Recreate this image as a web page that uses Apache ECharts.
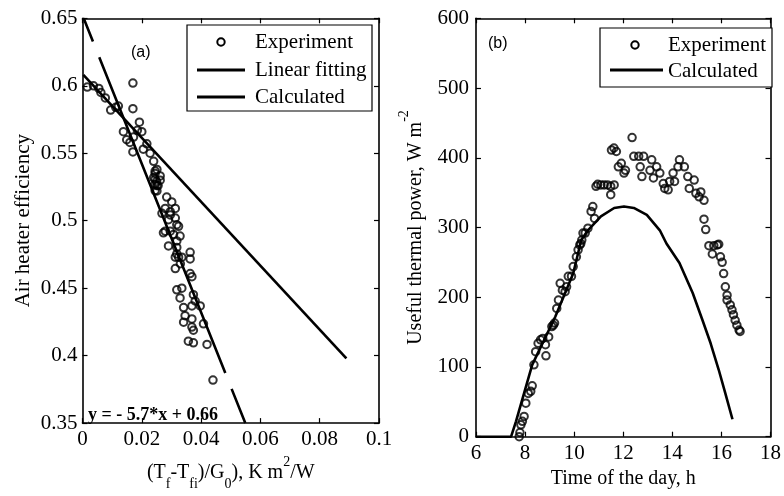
<!DOCTYPE html>
<html>
<head>
<meta charset="utf-8">
<script src="https://cdn.jsdelivr.net/npm/echarts@6/dist/echarts.min.js"></script>
<style>html,body{margin:0;padding:0;background:#fff;}#c{width:784px;height:496px;}</style>
</head>
<body>
<div id="c"></div>
<script>
// ---------- Data ----------
// Panel (a): air heater efficiency vs reduced temperature
const effExperiment = [
  [0.0016,0.599],[0.0037,0.600],[0.0055,0.598],[0.0062,0.595],[0.0077,0.591],[0.0095,0.582],
  [0.0112,0.584],[0.0121,0.585],[0.0170,0.602],[0.0170,0.583],[0.0192,0.573],[0.0138,0.566],
  [0.0149,0.560],[0.0170,0.551],[0.0172,0.562],[0.0200,0.566],[0.0217,0.557],[0.0205,0.553],
  [0.0185,0.567],[0.0160,0.558],[0.0228,0.550],[0.0240,0.544],[0.0251,0.538],[0.0245,0.535],
  [0.0240,0.532],[0.0245,0.527],[0.0251,0.522],[0.0262,0.530],[0.0255,0.526],[0.0250,0.529],
  [0.0245,0.5368],[0.0245,0.5308],[0.0251,0.526],[0.0245,0.5223],[0.0262,0.5332],
  [0.0284,0.5175],[0.0301,0.5139],[0.0279,0.5091],[0.0296,0.5067],[0.0268,0.5055],
  [0.0313,0.5091],[0.0290,0.5007],[0.0318,0.4970],[0.0279,0.4922],[0.0307,0.4898],
  [0.0329,0.4886],[0.0290,0.4813],[0.0318,0.4802],[0.0363,0.4766],[0.0363,0.4717],
  [0.0324,0.4730],[0.0313,0.4730],[0.0313,0.4645],[0.0363,0.4608],[0.0369,0.4585],
  [0.0318,0.4488],[0.0335,0.4500],[0.0329,0.4428],[0.0374,0.4452],[0.0380,0.4405],
  [0.0397,0.4368],[0.0369,0.4368],[0.0341,0.4356],[0.0346,0.4296],[0.0369,0.4272],
  [0.0341,0.4248],[0.0369,0.4212],[0.0374,0.4188],[0.0408,0.4236],[0.0357,0.4107],
  [0.0374,0.4095],[0.0420,0.4083],[0.0440,0.3819],[0.0296,0.5043],[0.0313,0.5020],
  [0.0324,0.4958],[0.0273,0.4910],[0.0296,0.4922],[0.0330,0.4681],[0.0335,0.4730],
  [0.0318,0.4754],[0.0318,0.4850]
];
const effLinearFit = [[0.0004,0.650],[0.0549,0.350]];
const effCalculated = [[0.0003,0.608],[0.0890,0.398]];

// Panel (b): useful thermal power vs time of day
const powerExperiment = [
  [7.76,0],[7.79,6],[7.83,17],[7.89,22],[7.96,29],[8.03,48],[8.13,62],[8.23,65],[8.29,73],
  [8.36,103],[8.43,122],[8.53,134],[8.63,139],[8.72,141],[8.83,132],[8.85,116],[8.96,143],
  [9.09,158],[9.20,163],[9.15,160],[9.29,184],[9.36,196],[9.43,220],[9.52,210],[9.63,208],
  [9.69,215],[9.76,230],[9.89,230],[9.96,244],[10.09,258],[10.16,268],[10.27,277],[10.23,275],
  [10.31,282],[10.36,292],[10.45,292],[10.56,299],[10.69,323],[10.83,313],[10.76,330],
  [10.89,359],[10.96,362],[11.09,361],[11.22,361],[11.36,361],[11.49,359],[11.49,347],
  [11.63,361],[11.52,411],[11.62,414],[11.72,409],[11.80,387],[11.92,392],[12.03,378],
  [12.09,382],[12.36,429],[12.43,402],[12.63,402],[12.69,387],[12.76,373],[12.83,402],
  [13.09,382],[13.23,371],[13.16,397],[13.36,387],[13.49,378],[13.63,363],[13.69,356],
  [13.83,354],[13.89,366],[14.03,378],[14.09,366],[14.23,387],[14.29,397],[14.49,387],
  [14.63,373],[14.69,356],[14.89,368],[14.96,349],[15.09,344],[15.16,351],[15.29,339],
  [15.29,312],[15.36,297],[15.49,274],[15.63,262],[15.69,274],[15.83,275],[15.89,276],
  [15.96,258],[16.03,250],[16.09,234],[16.16,215],[16.23,203],[16.23,196],[16.36,189],
  [16.43,182],[16.49,175],[16.56,167],[16.63,160],[16.72,153],[16.76,151]
];
const powerCalculated = [
  [6.00,0],[7.43,0],[7.63,22],[8.29,103],[9.23,172],[9.96,234],[10.29,282],[10.56,296],
  [11.09,316],[11.63,328],[12.03,330],[12.43,328],[12.96,318],[13.49,296],[13.76,277],
  [14.29,249],[14.83,206],[15.23,167],[15.56,134],[15.89,96],[16.16,62],[16.45,25]
];

// Tick definitions
const effXTicks = {min: 0, max: 0.1, interval: 0.02};
const effYTicks = {min: 0.35, max: 0.65, interval: 0.05};
const powXTicks = {min: 6, max: 18, interval: 2};
const powYTicks = {min: 0, max: 600, interval: 100};

// ---------- Chart ----------
const serif = 'Liberation Serif, Times New Roman, serif';
const chart = echarts.init(document.getElementById('c'), null, {renderer: 'canvas'});

function axisBase(t, pos, grid, showLabel, margin) {
  return {
    type: 'value', gridIndex: grid, position: pos,
    min: t.min, max: t.max, interval: t.interval,
    axisLine: {show: true, onZero: false, lineStyle: {color: '#000', width: 1.6}},
    axisTick: {show: true, inside: true, length: 5, lineStyle: {color: '#000', width: 1.2}},
    axisLabel: {show: showLabel, color: '#000', fontFamily: serif, fontSize: 21, margin: margin},
    splitLine: {show: false}
  };
}

const subRich = {
  sub: {fontSize: 14, lineHeight: 14, verticalAlign: 'bottom', fontFamily: serif, color: '#000'},
  sup: {fontSize: 14, lineHeight: 14, verticalAlign: 'top', fontFamily: serif, color: '#000'}
};

const xA0 = axisBase(effXTicks, 'bottom', 0, true, 6);
xA0.name = '(T{sub|f}-T{sub|fi})/G{sub|0}), K m{sup|2}/W';
xA0.nameLocation = 'middle';
xA0.nameGap = 27;
xA0.nameTextStyle = {color: '#000', fontFamily: serif, fontSize: 20, lineHeight: 36, rich: subRich};
const xA1 = axisBase(effXTicks, 'top', 0, false, 6);
const yA0 = axisBase(effYTicks, 'left', 0, true, 5);
yA0.name = 'Air heater efficiency';
yA0.nameLocation = 'middle';
yA0.nameGap = 49;
yA0.nameTextStyle = {color: '#000', fontFamily: serif, fontSize: 21};
const yA1 = axisBase(effYTicks, 'right', 0, false, 5);

const xB0 = axisBase(powXTicks, 'bottom', 1, true, 6);
xB0.name = 'Time of the day, h';
xB0.nameLocation = 'middle';
xB0.nameGap = 29;
xB0.nameTextStyle = {color: '#000', fontFamily: serif, fontSize: 20};
const xB1 = axisBase(powXTicks, 'top', 1, false, 6);
const yB0 = axisBase(powYTicks, 'left', 1, true, 7);
yB0.name = 'Useful thermal power, W m{sup|-2}';
yB0.nameLocation = 'middle';
yB0.nameGap = 41;
yB0.nameTextStyle = {color: '#000', fontFamily: serif, fontSize: 20, lineHeight: 36, rich: subRich};
const yB1 = axisBase(powYTicks, 'right', 1, false, 7);

const circleStyle = {color: 'rgba(0,0,0,0)', borderColor: '#000', borderWidth: 2};

const option = {
  animation: false,
  backgroundColor: '#fff',
  grid: [
    {left: 82.5, top: 18.3, width: 296.5, height: 415},
    {left: 476, top: 18.3, width: 301, height: 418.4}
  ],
  xAxis: [xA0, xA1, xB0, xB1],
  yAxis: [yA0, yA1, yB0, yB1],
  series: [
    {name: 'Experiment', type: 'scatter', xAxisIndex: 0, yAxisIndex: 0, data: effExperiment,
     symbol: 'circle', symbolSize: 7.5, itemStyle: circleStyle, z: 3},
    {name: 'Linear fitting', type: 'line', xAxisIndex: 0, yAxisIndex: 0, data: effLinearFit,
     symbol: 'none', lineStyle: {color: '#000', width: 2.6, type: [25, 17, 340, 17, 60, 200]}, z: 2},
    {name: 'Calculated', type: 'line', xAxisIndex: 0, yAxisIndex: 0, data: effCalculated,
     symbol: 'none', lineStyle: {color: '#000', width: 2.6}, z: 2},
    {name: 'Experiment', type: 'scatter', xAxisIndex: 2, yAxisIndex: 2, data: powerExperiment,
     symbol: 'circle', symbolSize: 7.5, itemStyle: circleStyle, z: 3},
    {name: 'Calculated', type: 'line', xAxisIndex: 2, yAxisIndex: 2, data: powerCalculated,
     symbol: 'none', lineStyle: {color: '#000', width: 2.6}, z: 2}
  ],
  graphic: [
    // legend (a)
    {type: 'rect', shape: {x: 187, y: 25, width: 185, height: 86}, style: {fill: '#fff', stroke: '#000', lineWidth: 1.2}, z: 10},
    {type: 'circle', shape: {cx: 221, cy: 42, r: 3.7}, style: {fill: 'none', stroke: '#000', lineWidth: 2}, z: 11},
    {type: 'line', shape: {x1: 197, y1: 70, x2: 245, y2: 70}, style: {stroke: '#000', lineWidth: 2.8}, z: 11},
    {type: 'line', shape: {x1: 197, y1: 97, x2: 245, y2: 97}, style: {stroke: '#000', lineWidth: 2.8}, z: 11},
    {type: 'text', x: 255, y: 42, style: {text: 'Experiment', font: '21px ' + serif, fill: '#000', verticalAlign: 'middle'}, z: 11},
    {type: 'text', x: 255, y: 70, style: {text: 'Linear fitting', font: '21px ' + serif, fill: '#000', verticalAlign: 'middle'}, z: 11},
    {type: 'text', x: 255, y: 97, style: {text: 'Calculated', font: '21px ' + serif, fill: '#000', verticalAlign: 'middle'}, z: 11},
    // legend (b)
    {type: 'rect', shape: {x: 600, y: 28, width: 172, height: 59}, style: {fill: '#fff', stroke: '#000', lineWidth: 1.2}, z: 10},
    {type: 'circle', shape: {cx: 635, cy: 45, r: 3.7}, style: {fill: 'none', stroke: '#000', lineWidth: 2}, z: 11},
    {type: 'line', shape: {x1: 610, y1: 70, x2: 663, y2: 70}, style: {stroke: '#000', lineWidth: 2.8}, z: 11},
    {type: 'text', x: 668, y: 45, style: {text: 'Experiment', font: '21px ' + serif, fill: '#000', verticalAlign: 'middle'}, z: 11},
    {type: 'text', x: 668, y: 71, style: {text: 'Calculated', font: '21px ' + serif, fill: '#000', verticalAlign: 'middle'}, z: 11},
    // panel labels & equation
    {type: 'text', x: 131, y: 53, style: {text: '(a)', font: '16px Liberation Sans, Arial, sans-serif', fill: '#000', verticalAlign: 'middle'}, z: 11},
    {type: 'text', x: 488, y: 44, style: {text: '(b)', font: '16px Liberation Sans, Arial, sans-serif', fill: '#000', verticalAlign: 'middle'}, z: 11},
    {type: 'text', x: 88, y: 415, style: {text: 'y = - 5.7*x + 0.66', font: 'bold 18px ' + serif, fill: '#000', verticalAlign: 'middle'}, z: 11}
  ]
};
chart.setOption(option);
</script>
</body>
</html>
